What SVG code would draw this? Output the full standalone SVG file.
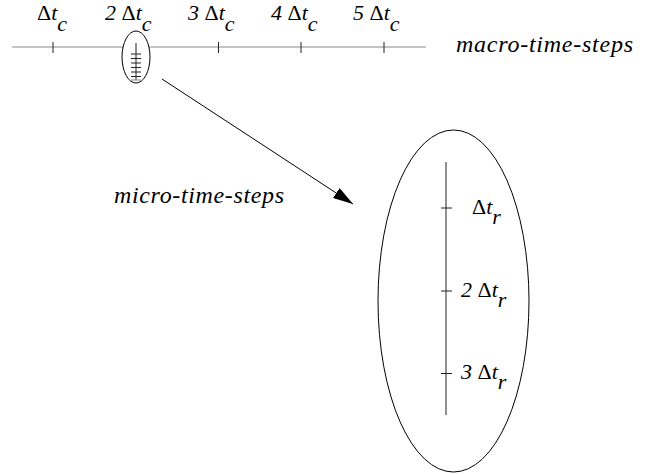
<svg xmlns="http://www.w3.org/2000/svg" width="648" height="474" viewBox="0 0 648 474">
<defs>
<marker id="ah" viewBox="0 0 20 12" refX="20" refY="6" markerWidth="20" markerHeight="12" markerUnits="userSpaceOnUse" orient="auto">
<path d="M0,0 L20,6 L0,12 Z" fill="#000"/>
</marker>
</defs>
<g id="macro-axis">
<line x1="12" y1="47" x2="426" y2="47" stroke="#8a8a8a" stroke-width="1"/>
<g stroke="#222" stroke-width="1">
<line x1="53" y1="42" x2="53" y2="53"/>
<line x1="218.5" y1="42" x2="218.5" y2="53"/>
<line x1="301" y1="42" x2="301" y2="53"/>
<line x1="384" y1="42" x2="384" y2="53"/>
</g>
<g font-family="Times New Roman, Liberation Serif, serif" font-style="italic" font-size="22" fill="#000">
<text x="37" y="20"><tspan font-style="normal">&#916;</tspan>t<tspan dy="11">c</tspan></text>
<text x="105" y="20">2 <tspan font-style="normal">&#916;</tspan>t<tspan dy="11">c</tspan></text>
<text x="188" y="20">3 <tspan font-style="normal">&#916;</tspan>t<tspan dy="11">c</tspan></text>
<text x="271" y="20">4 <tspan font-style="normal">&#916;</tspan>t<tspan dy="11">c</tspan></text>
<text x="353" y="20">5 <tspan font-style="normal">&#916;</tspan>t<tspan dy="11">c</tspan></text>
</g>
<text x="456" y="52" font-family="Times New Roman, Liberation Serif, serif" font-style="italic" font-size="24" fill="#000" textLength="177" lengthAdjust="spacing">macro-time-steps</text>
</g>
<g id="small-ellipse">
<ellipse cx="136" cy="57" rx="14" ry="26" fill="#fff" stroke="#000" stroke-width="1"/>
<g stroke="#222" stroke-width="1">
<line x1="136" y1="43" x2="136" y2="80"/>
<line x1="131" y1="54" x2="141" y2="54"/>
<line x1="131" y1="58.5" x2="141" y2="58.5"/>
<line x1="131" y1="63" x2="141" y2="63"/>
<line x1="131" y1="67.5" x2="141" y2="67.5"/>
<line x1="131" y1="72" x2="141" y2="72"/>
<line x1="131" y1="76.5" x2="141" y2="76.5"/>
</g>
<line x1="131" y1="80" x2="141" y2="80" stroke="#8a8a8a" stroke-width="1"/>
</g>
<g id="connectors">
<line x1="162" y1="79" x2="353" y2="204" stroke="#000" stroke-width="1" marker-end="url(#ah)"/>
</g>
<text id="micro-label" x="114" y="203" font-family="Times New Roman, Liberation Serif, serif" font-style="italic" font-size="24" fill="#000" textLength="170" lengthAdjust="spacing">micro-time-steps</text>
<g id="big-ellipse">
<ellipse cx="453.5" cy="301" rx="75.5" ry="171" fill="#fff" stroke="#000" stroke-width="1"/>
<g stroke="#222" stroke-width="1">
<line x1="446" y1="162" x2="446" y2="415"/>
<line x1="441" y1="208" x2="452" y2="208"/>
<line x1="441" y1="291" x2="452" y2="291"/>
<line x1="441" y1="373.5" x2="452" y2="373.5"/>
</g>
<g font-family="Times New Roman, Liberation Serif, serif" font-style="italic" font-size="22" fill="#000">
<text x="472" y="214"><tspan font-style="normal">&#916;</tspan>t<tspan dy="10">r</tspan></text>
<text x="461" y="297">2 <tspan font-style="normal">&#916;</tspan>t<tspan dy="10">r</tspan></text>
<text x="461" y="379">3 <tspan font-style="normal">&#916;</tspan>t<tspan dy="10">r</tspan></text>
</g>
</g>
</svg>
